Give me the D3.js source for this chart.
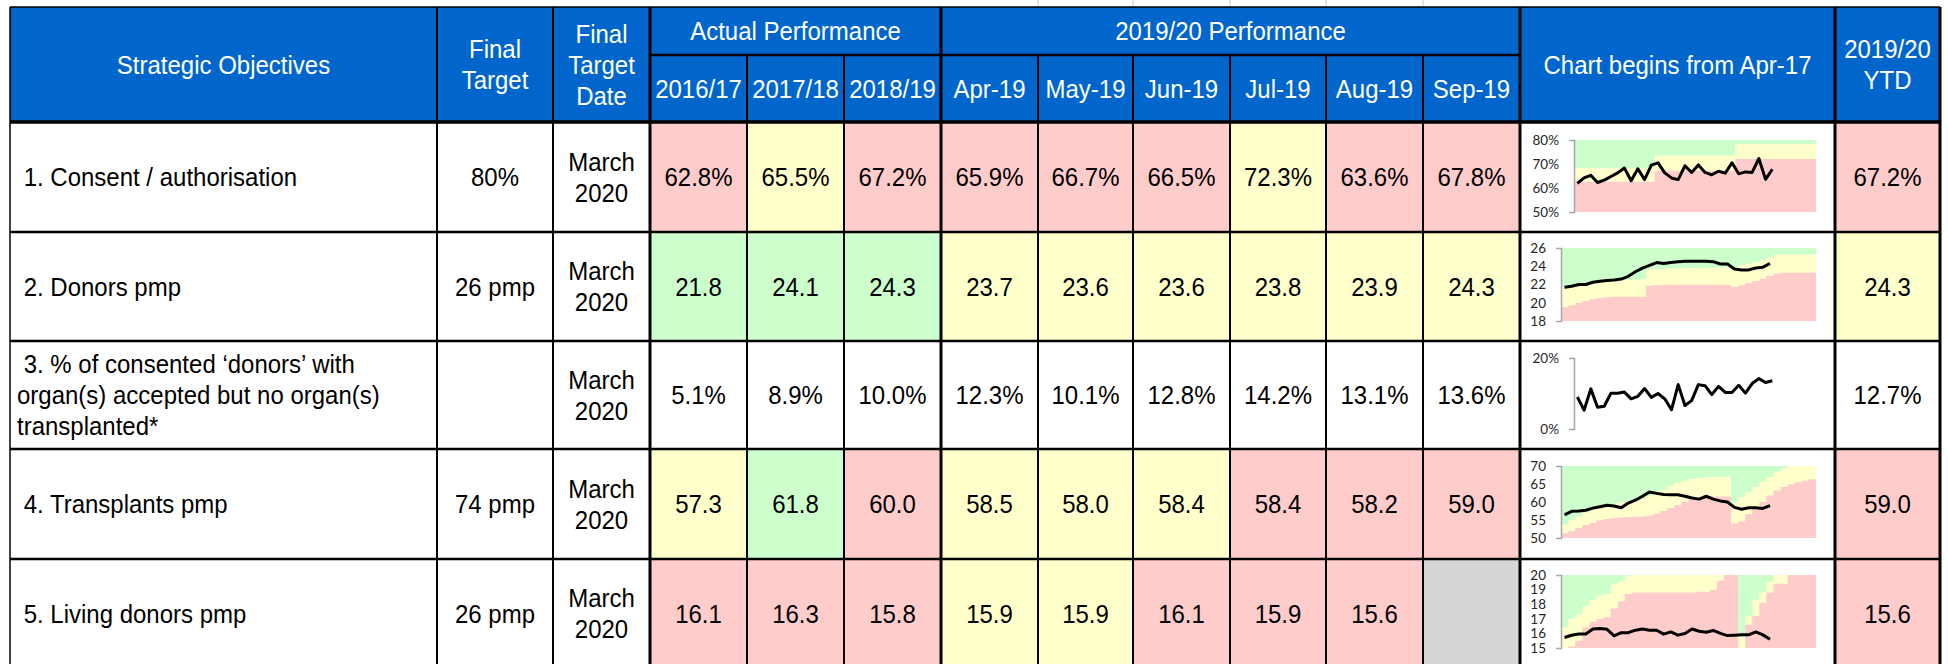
<!DOCTYPE html>
<meta charset='utf-8'>
<style>
body { margin: 0; background: #fff; }
svg { display: block; }
text { font-family: 'Liberation Sans', Arial, sans-serif; font-size: 24px; fill: #000; }
.head text { fill: #fff; }
.spark text { font-family: Lato, 'Noto Sans', sans-serif; font-size: 13.5px; fill: #262626; }
.spark .domain { stroke: #a6a6a6; stroke-width: 1.5; }
</style>
<svg width='1948' height='664'></svg>
<script src='https://cdnjs.cloudflare.com/ajax/libs/d3/7.8.5/d3.min.js'></script>
<script>

// ---------- table data ----------
const objectives = [
  [' 1. Consent / authorisation'],
  [' 2. Donors pmp'],
  [' 3. % of consented \u2018donors\u2019 with', 'organ(s) accepted but no organ(s)', 'transplanted*'],
  [' 4. Transplants pmp'],
  [' 5. Living donors pmp']
];
const finalTargets = ['80%', '26 pmp', '', '74 pmp', '26 pmp'];
const targetDate = ['March', '2020'];
const groupTitles = ['Actual Performance', '2019/20 Performance'];
const periodLabels = ['2016/17', '2017/18', '2018/19', 'Apr-19', 'May-19', 'Jun-19', 'Jul-19', 'Aug-19', 'Sep-19'];
const periodValues = [
  ['62.8%', '65.5%', '67.2%', '65.9%', '66.7%', '66.5%', '72.3%', '63.6%', '67.8%'],
  ['21.8', '24.1', '24.3', '23.7', '23.6', '23.6', '23.8', '23.9', '24.3'],
  ['5.1%', '8.9%', '10.0%', '12.3%', '10.1%', '12.8%', '14.2%', '13.1%', '13.6%'],
  ['57.3', '61.8', '60.0', '58.5', '58.0', '58.4', '58.4', '58.2', '59.0'],
  ['16.1', '16.3', '15.8', '15.9', '15.9', '16.1', '15.9', '15.6', '']
];
// r = red, y = amber, g = green, w = no rating, n = no data
const periodStatus = [
  ['r', 'y', 'r', 'r', 'r', 'r', 'y', 'r', 'r'],
  ['g', 'g', 'g', 'y', 'y', 'y', 'y', 'y', 'y'],
  ['w', 'w', 'w', 'w', 'w', 'w', 'w', 'w', 'w'],
  ['y', 'g', 'r', 'y', 'y', 'y', 'r', 'r', 'r'],
  ['r', 'r', 'r', 'y', 'y', 'r', 'r', 'r', 'n']
];
const ytdValues = ['67.2%', '24.3', '12.7%', '59.0', '15.6'];
const ytdStatus = ['r', 'y', 'w', 'r', 'r'];

// ---------- sparkline data (monthly from Apr-17) ----------
const consentLine = [62.0, 64.2, 65.3, 62.3, 63.3, 64.8, 66.3, 68.3, 63.0, 68.0, 63.5, 69.5, 70.5, 66.3, 64.2, 63.5, 69.2, 66.5, 69.6, 66.5, 65.5, 67.0, 66.2, 70.5, 65.9, 66.7, 66.5, 72.3, 63.6, 67.8];
const consentRed = [62.6, 62.6, 62.6, 62.6, 62.6, 62.6, 62.6, 62.6, 62.6, 62.6, 62.6, 62.6, 67.2, 67.2, 67.2, 67.2, 67.2, 67.2, 67.2, 67.2, 67.2, 67.2, 67.2, 67.2, 72.1, 72.1, 72.1, 72.1, 72.1, 72.1, 72.1, 72.1, 72.1, 72.1, 72.1, 72.1];
const consentAmber = [68.2, 68.2, 68.2, 68.2, 68.2, 68.2, 68.2, 68.2, 68.2, 68.2, 68.2, 68.2, 73.5, 73.5, 73.5, 73.5, 73.5, 73.5, 73.5, 73.5, 73.5, 73.5, 73.5, 73.5, 78.2, 78.2, 78.2, 78.2, 78.2, 78.2, 78.2, 78.2, 78.2, 78.2, 78.2, 78.2];

const donorsLine = [21.7, 21.8, 22.0, 22.0, 22.25, 22.35, 22.45, 22.5, 22.6, 22.9, 23.4, 23.8, 24.1, 24.4, 24.3, 24.4, 24.5, 24.55, 24.55, 24.55, 24.55, 24.5, 24.25, 24.25, 23.7, 23.6, 23.6, 23.8, 23.9, 24.3];
const donorsRed = [19.53, 19.72, 19.97, 20.19, 20.37, 20.52, 20.59, 20.67, 20.67, 20.67, 20.67, 20.67, 21.85, 21.91, 21.95, 21.98, 21.98, 21.98, 21.98, 21.98, 21.98, 21.98, 21.98, 21.95, 21.73, 21.91, 22.16, 22.38, 22.64, 22.93, 23.19, 23.3, 23.3, 23.3, 23.3, 23.3];
const donorsAmber = [21.62, 21.84, 21.98, 22.09, 22.2, 22.27, 22.35, 22.42, 22.46, 22.49, 22.53, 22.57, 23.66, 23.7, 23.72, 23.74, 23.76, 23.78, 23.8, 23.81, 23.83, 23.85, 23.87, 23.9, 23.92, 24.1, 24.28, 24.47, 24.65, 25.0, 25.27, 25.3, 25.3, 25.3, 25.3, 25.3];

const noTxLine = [9.0, 5.3, 11.3, 6.1, 6.4, 10.1, 10.1, 10.4, 8.5, 9.2, 11.4, 8.9, 10.0, 8.5, 5.4, 12.5, 6.6, 8.0, 12.5, 12.2, 9.7, 12.0, 10.3, 10.3, 12.3, 10.1, 12.8, 14.2, 13.1, 13.6];

const transplantsLine = [56.4, 57.4, 57.5, 57.7, 58.3, 58.7, 59.1, 58.9, 58.4, 59.7, 60.5, 61.6, 62.8, 62.4, 62.1, 62.0, 62.0, 61.6, 61.1, 60.8, 61.6, 60.8, 60.3, 60.0, 58.5, 58.0, 58.4, 58.4, 58.2, 59.0];
const transplantsRed = [51.3, 51.9, 52.8, 53.6, 54.2, 54.9, 55.3, 55.5, 55.7, 55.8, 55.9, 56.0, 56.2, 56.8, 57.5, 58.3, 59.2, 60.0, 60.7, 61.2, 61.4, 61.5, 61.5, 61.5, 54.0, 54.6, 56.6, 58.3, 60.0, 61.8, 63.2, 64.2, 64.9, 65.4, 65.9, 66.3];
const transplantsAmber = [53.7, 55.0, 56.0, 57.0, 57.7, 58.3, 59.0, 59.6, 60.0, 60.3, 60.5, 60.7, 61.6, 62.6, 63.5, 64.5, 65.3, 65.9, 66.4, 66.7, 66.9, 67.0, 67.0, 67.0, 59.9, 61.4, 62.8, 64.2, 65.6, 66.9, 68.2, 69.4, 70, 70, 70, 70];

const livingLine = [15.72, 15.87, 15.96, 15.96, 16.3, 16.33, 16.28, 15.83, 16.05, 16.05, 16.22, 16.3, 16.22, 16.22, 15.95, 16.1, 15.88, 15.99, 16.3, 16.15, 16.08, 16.2, 16.0, 15.85, 15.87, 15.9, 15.9, 16.1, 15.9, 15.6];
const livingRed = [15.0, 15.1, 15.5, 16.4, 16.8, 17.0, 17.1, 17.7, 18.2, 18.7, 18.8, 18.8, 18.8, 18.8, 18.8, 18.8, 18.8, 18.8, 18.8, 18.85, 18.85, 18.97, 19.6, 20, 20, 15.0, 16.6, 17.2, 18.1, 18.8, 19.4, 19.4, 20, 20, 20, 20];
const livingAmber = [16.4, 17.0, 17.3, 17.9, 18.3, 18.6, 18.7, 19.35, 19.55, 19.95, 20, 20, 20, 20, 20, 20, 20, 20, 20, 20, 20, 20, 20, 20, 20, 15.75, 17.2, 18.3, 18.8, 19.5, 20, 20, 20, 20, 20, 20];

const sparkLines = [consentLine, donorsLine, noTxLine, transplantsLine, livingLine];
const sparkRed = [consentRed, donorsRed, null, transplantsRed, livingRed];
const sparkAmber = [consentAmber, donorsAmber, null, transplantsAmber, livingAmber];
const sparkDomains = [[50, 80], [18, 26], [0, 20], [50, 70], [15, 20]];
const sparkTicks = [[50, 60, 70, 80], [18, 20, 22, 24, 26], [0, 20], [50, 55, 60, 65, 70], [15, 16, 17, 18, 19, 20]];
const sparkPercent = [true, false, true, false, false];

// ---------- layout ----------
const svg = d3.select('svg');
const colX = [10, 437, 553, 650, 747, 844, 941, 1038, 1133, 1230, 1326, 1423, 1520, 1835, 1940];
const headTop = 7, headMid = 55, headBottom = 122;
const rowY = [122, 232, 341, 449, 559, 668];
const lineGap = 31;
const stretchY = 1.08; // text in the source is slightly taller than Arial
const fills = { r: '#FFCCCC', y: '#FFFFCC', g: '#CCFFCC', w: '#FFFFFF', n: '#D6D6D6' };
const blue = '#0066CC';
const colMid = c => (colX[c] + colX[c + 1]) / 2;
const rowMid = r => (rowY[r] + rowY[r + 1]) / 2;

// faint marks above header (remains of cell borders)
svg.append('g').selectAll('line').data([7, 8, 9, 10, 11]).join('line')
  .attr('x1', c => colX[c]).attr('x2', c => colX[c])
  .attr('y1', 0).attr('y2', headTop - 1)
  .attr('stroke', '#c8c8c8').attr('stroke-width', 1);

// header background
svg.append('rect').attr('x', colX[0]).attr('y', headTop)
  .attr('width', colX[14] - colX[0]).attr('height', headBottom - headTop)
  .attr('fill', blue);

// body cell fills
const body = svg.append('g');
objectives.forEach((o, r) => {
  const status = ['w', 'w', 'w'].concat(periodStatus[r], ['w', ytdStatus[r]]);
  status.forEach((s, c) => {
    body.append('rect')
      .attr('x', colX[c]).attr('y', rowY[r])
      .attr('width', colX[c + 1] - colX[c]).attr('height', rowY[r + 1] - rowY[r])
      .attr('fill', fills[s]);
  });
});

// multi-line text helper, each line stretched a little vertically about its centre
function multiText(g, x, yc, lines, anchor) {
  lines.forEach((l, k) => {
    const ly = yc + (k - (lines.length - 1) / 2) * lineGap;
    g.append('text')
      .attr('transform', `translate(${x},${ly}) scale(1,${stretchY})`)
      .attr('text-anchor', anchor)
      .attr('xml:space', 'preserve')
      .style('white-space', 'pre')
      .attr('dy', '0.35em')
      .text(l);
  });
}

// header text
const head = svg.append('g').attr('class', 'head');
multiText(head, colMid(0), 64.5, ['Strategic Objectives'], 'middle');
multiText(head, colMid(1), 64.5, ['Final', 'Target'], 'middle');
multiText(head, colMid(2), 64.5, ['Final', 'Target', 'Date'], 'middle');
multiText(head, (colX[3] + colX[6]) / 2, 31, [groupTitles[0]], 'middle');
multiText(head, (colX[6] + colX[12]) / 2, 31, [groupTitles[1]], 'middle');
periodLabels.forEach((p, i) => multiText(head, colMid(i + 3), 88.5, [p], 'middle'));
multiText(head, colMid(12), 64.5, ['Chart begins from Apr-17'], 'middle');
multiText(head, colMid(13), 64.5, ['2019/20', 'YTD'], 'middle');

// body text
objectives.forEach((o, r) => {
  multiText(body, 17, rowMid(r), o, 'start');
  multiText(body, colMid(1), rowMid(r), [finalTargets[r]], 'middle');
  multiText(body, colMid(2), rowMid(r), targetDate, 'middle');
  periodValues[r].forEach((v, i) => multiText(body, colMid(i + 3), rowMid(r), [v], 'middle'));
  multiText(body, colMid(13), rowMid(r), [ytdValues[r]], 'middle');
});

// ---------- sparklines ----------
const sparkLeft = [1574, 1561, 1574, 1561, 1561];
const sparkRight = 1816;
const sparkTopOffset = [18, 16, 17, 17, 16];
const sparkHeight = [72, 73, 71, 72, 73];

sparkLines.forEach((values, r) => {
  const g = svg.append('g').attr('class', 'spark');
  const top = rowY[r] + sparkTopOffset[r], bottom = top + sparkHeight[r];
  const x = d3.scaleBand().domain(d3.range(36)).range([sparkLeft[r], sparkRight]);
  const y = d3.scaleLinear().domain(sparkDomains[r]).range([bottom, top]);

  if (sparkRed[r]) {
    g.append('rect').attr('x', sparkLeft[r]).attr('y', top)
      .attr('width', sparkRight - sparkLeft[r]).attr('height', bottom - top)
      .attr('fill', fills.g);
    const step = d3.area().curve(d3.curveStepAfter)
      .x((d, i) => i < 36 ? x(i) : sparkRight)
      .y0(bottom).y1(d => y(d));
    const ext = a => a.concat([a[a.length - 1]]);
    g.append('path').attr('d', step(ext(sparkAmber[r]))).attr('fill', fills.y);
    g.append('path').attr('d', step(ext(sparkRed[r]))).attr('fill', fills.r);
  }

  const axis = d3.axisLeft(y).tickValues(sparkTicks[r])
    .tickSizeInner(0).tickSizeOuter(5).tickPadding(15)
    .tickFormat(d => sparkPercent[r] ? d + '%' : d);
  const ax = g.append('g').attr('transform', `translate(${sparkLeft[r]},0)`).call(axis);
  ax.attr('font-size', null).attr('font-family', null);

  g.append('path')
    .attr('d', d3.line().x((d, i) => x(i) + x.bandwidth() / 2).y(d => y(d))(values))
    .attr('fill', 'none').attr('stroke', '#000').attr('stroke-width', 3)
    .attr('stroke-linejoin', 'round');
});

// ---------- grid lines ----------
const grid = svg.append('g').attr('stroke', '#000');
const thick = new Set([3, 6, 12, 13]);
colX.forEach((cx, c) => {
  const w = c === 0 ? 1.5 : (thick.has(c) || c === 14 ? 3 : 2);
  const fullHead = c <= 3 || c === 6 || c >= 12;
  grid.append('line').attr('x1', cx).attr('x2', cx)
    .attr('y1', fullHead ? headTop : headMid).attr('y2', rowY[5])
    .attr('stroke-width', w);
});
grid.append('line').attr('x1', colX[3]).attr('x2', colX[12])
  .attr('y1', headMid).attr('y2', headMid).attr('stroke-width', 2.5);
grid.append('line').attr('x1', colX[0]).attr('x2', colX[14])
  .attr('y1', headTop).attr('y2', headTop).attr('stroke-width', 1.5);
rowY.slice(0, 5).forEach((ry, i) => {
  grid.append('line').attr('x1', colX[0]).attr('x2', colX[14])
    .attr('y1', ry).attr('y2', ry)
    .attr('stroke-width', i === 0 ? 3.5 : 2.5);
});
</script>
